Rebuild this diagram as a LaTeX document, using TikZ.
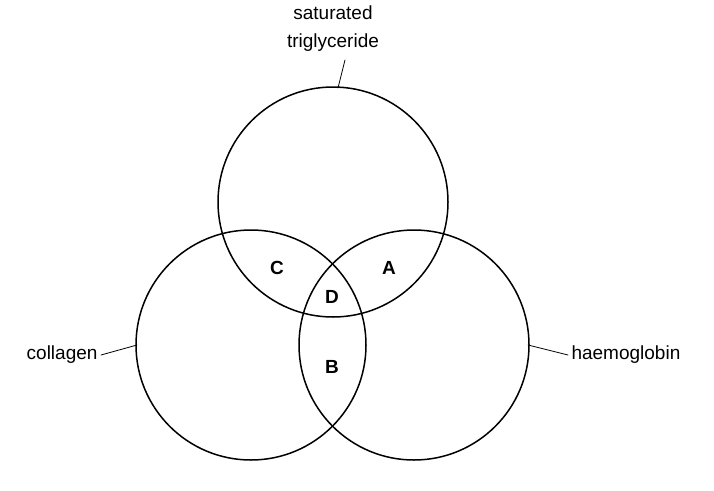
\documentclass[tikz,border=0pt]{standalone}
\usepackage{fontspec}
\setmainfont{Liberation Sans}
\begin{document}
\begin{tikzpicture}
		[x=1pt,y=-1pt,line cap=round,
		%Styles
		set/.style={line width=1.5pt},
		leader/.style={line width=0.8pt},
		region/.style={font=\fontsize{19}{22}\selectfont\bfseries},
		label text/.style={font=\fontsize{19}{28}\selectfont,align=center}
		]
		\useasboundingbox (0,0) rectangle (714,490);
		
		%The circles
		\draw[set] (333,202) circle[radius=115];
		\draw[set] (251,345) circle[radius=115];
		\draw[set] (414,345) circle[radius=115];
		
		%Names and leaders
		\node[label text] (fat) at (333,29) {saturated\\triglyceride};
		\node[label text,anchor=east] (coll) at (101,355) {collagen};
		\node[label text,anchor=west] (haem) at (568,355) {haemoglobin};
		\coordinate (fatstart) at (345,60);
		\coordinate (fatend) at (338,88);
		\coordinate (collend) at (137,345);
		\coordinate (haemend) at (528,345);
		\draw[leader] (fatstart) -- (fatend);
		\draw[leader] (coll.east) -- (collend);
		\draw[leader] (haem.west) -- (haemend);
		
		%Regions
		\node[region] (C) at (277,268) {C};
		\node[region] (A) at (389,268) {A};
		\node[region] (D) at (332,297) {D};
		\node[region] (B) at (332,367) {B};
\end{tikzpicture}
\end{document}
